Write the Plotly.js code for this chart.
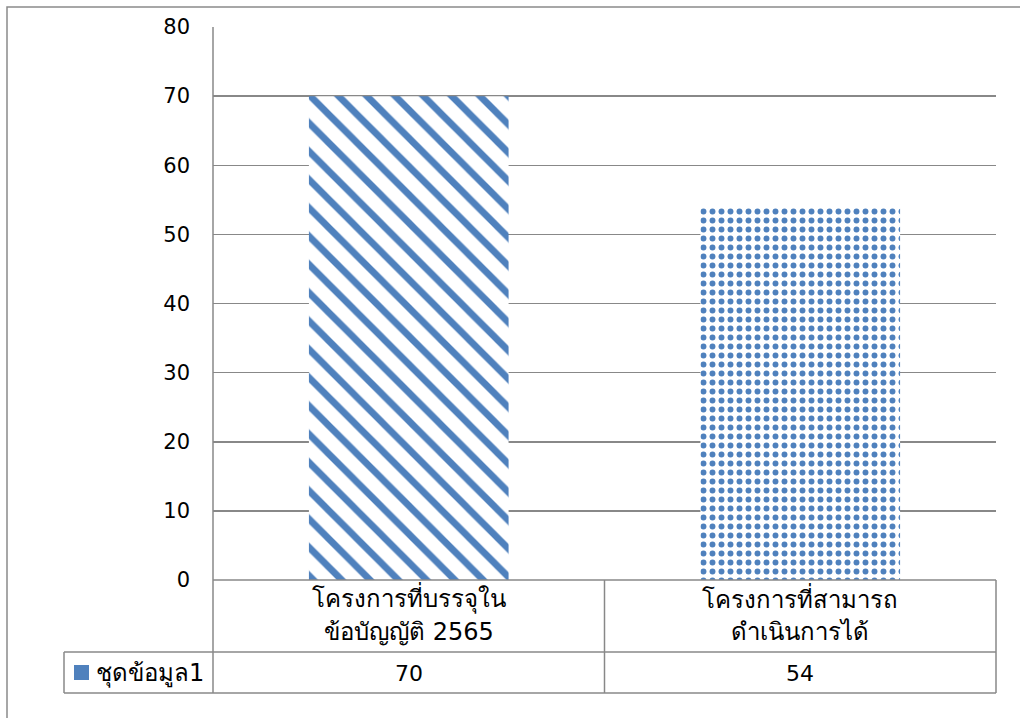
<!DOCTYPE html>
<html>
<head>
<meta charset="utf-8">
<script src="https://cdn.plot.ly/plotly-3.0.1.min.js"></script>
<style>
  html, body { margin: 0; padding: 0; background: #ffffff; }
  #chart { width: 1020px; height: 718px; }
</style>
</head>
<body>
<div id="chart"></div>
<script>
// ---- data ----
const categories = ["โครงการที่บรรจุใน<br>ข้อบัญญัติ 2565", "โครงการที่สามารถ<br>ดำเนินการได้"];
const seriesName = "ชุดข้อมูล1";
const values = [70, 54];
const yTicks = [0, 10, 20, 30, 40, 50, 60, 70, 80];

// ---- styles ----
const blue = "#4F81BD";
const gridGray = "#888888";
const fontFam = "Tahoma, 'DejaVu Sans', 'Noto Sans', sans-serif";

const idx = categories.map((c, i) => i);

// plot area in pixels: x 213..996, y 27..580
const W = 783, H = 553;
const px = v => (v - 213) / W;
const py = v => (580 - v) / H;

const shapes = [];
const line = (x0, y0, x1, y1, color, w) => shapes.push({
  type: "line", xref: "paper", yref: "paper",
  x0: x0, y0: y0, x1: x1, y1: y1,
  line: { color: color || gridGray, width: w || 1.5 }
});

// outer chart frame
shapes.push({ type: "rect", xref: "paper", yref: "paper",
  x0: px(7), y0: py(760), x1: px(1060), y1: py(7),
  line: { color: "#8a8a8a", width: 1.5 }, fillcolor: "rgba(0,0,0,0)" });

// data table lines
line(px(213), py(580), px(996), py(580));
line(px(64), py(652), px(996), py(652));
line(px(64), py(693), px(996), py(693));
line(px(64), py(652), px(64), py(693));
line(px(213), py(27), px(213), py(693));
line(px(996), py(580), px(996), py(693));
shapes.push({ type: "line", xref: "x", yref: "paper",
  x0: 0.5, x1: 0.5, y0: py(580), y1: py(693),
  line: { color: gridGray, width: 1.5 } });

// legend key square
shapes.push({ type: "rect", xref: "paper", yref: "paper",
  x0: px(74), x1: px(89), y0: py(680), y1: py(665),
  line: { width: 0 }, fillcolor: blue });

const annotations = [];
const lineY = [598, 632];
categories.forEach((c, i) => {
  c.split("<br>").forEach((t, k) => {
    annotations.push({ x: i, xref: "x", y: py(lineY[k]), yref: "paper",
      text: t, showarrow: false, xanchor: "center", yanchor: "middle",
      font: { family: fontFam, size: 24, color: "#000" } });
  });
  annotations.push({ x: i, xref: "x", y: py(673), yref: "paper",
    text: String(values[i]), showarrow: false, xanchor: "center", yanchor: "middle",
    font: { family: fontFam, size: 22, color: "#000" } });
});
annotations.push({ x: px(94), xref: "paper", y: py(673), yref: "paper",
  text: seriesName, showarrow: false, xanchor: "left", yanchor: "middle",
  font: { family: fontFam, size: 24, color: "#000" } });

const trace = {
  type: "bar",
  x: idx,
  y: values,
  name: seriesName,
  marker: {
    color: "#ffffff",
    line: { width: 0 },
    pattern: {
      shape: ["\\", "."],
      fgcolor: blue,
      bgcolor: "#ffffff",
      size: [20, 9],
      solidity: [0.34, 0.34],
      fillmode: "replace"
    }
  },
  hoverinfo: "skip"
};

const layout = {
  width: 1020, height: 718,
  margin: { l: 213, r: 24, t: 27, b: 138 },
  paper_bgcolor: "#ffffff",
  plot_bgcolor: "#ffffff",
  showlegend: false,
  bargap: 0.49,
  xaxis: {
    type: "linear",
    range: [-0.5, 1.5],
    showticklabels: false,
    showgrid: false, zeroline: false, showline: false, ticks: ""
  },
  yaxis: {
    range: [0, 80],
    tickvals: yTicks,
    ticktext: yTicks.map(String),
    showgrid: true, gridcolor: gridGray, gridwidth: 1.5,
    zeroline: false, showline: false, ticks: "",
    ticklabelstandoff: 22,
    tickfont: { family: fontFam, size: 21, color: "#000" }
  },
  shapes: shapes,
  annotations: annotations
};

Plotly.newPlot("chart", [trace], layout, { staticPlot: true, displayModeBar: false });
</script>
</body>
</html>
